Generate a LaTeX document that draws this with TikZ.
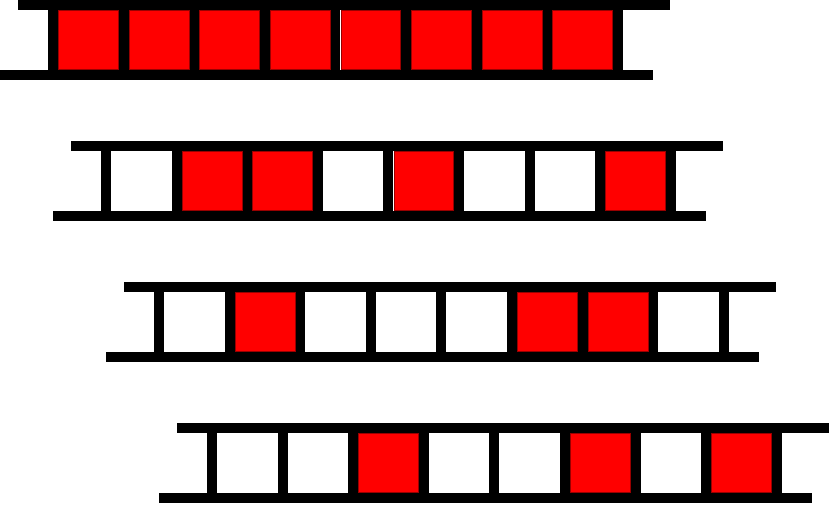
\documentclass[tikz,border=0pt]{standalone}
\begin{document}
\begin{tikzpicture}[x=1pt,y=-1pt]
\tikzset{
  railbar/.style={fill=black},
  cellon/.style={fill=red, draw=red!60!black, line width=0.5pt}
}
\useasboundingbox[fill=white] (0,0) rectangle (830,506);
\foreach \k/\pat in {0/{1,1,1,1,1,1,1,1}, 1/{0,1,1,0,1,0,0,1}, 2/{0,1,0,0,0,1,1,0}, 3/{0,0,1,0,0,1,0,1}} {
  \begin{scope}[shift={(53*\k,141*\k)}]
    \fill[railbar] (18,0) rectangle (670,10);
    \fill[railbar] (0,70) rectangle (653,80);
    \foreach \i in {0,...,8} {
      \fill[railbar] ({53+70.6*\i-5},0) rectangle ({53+70.6*\i+5},80);
    }
    \foreach \v [count=\i from 0] in \pat {
      \ifnum\v=1
        \filldraw[cellon] ({53+70.6*\i+5.4},10.4) rectangle ({53+70.6*(\i+1)-5.4},69.6);
      \fi
    }
  \end{scope}
}
\end{tikzpicture}
\end{document}
